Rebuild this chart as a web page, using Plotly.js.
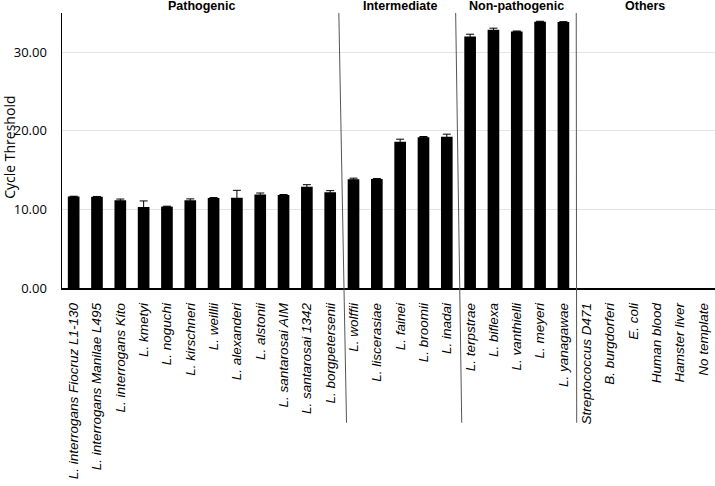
<!DOCTYPE html>
<html>
<head>
<meta charset="utf-8">
<script src="https://cdn.plot.ly/plotly-3.0.1.min.js"></script>
<style>html,body{margin:0;padding:0;background:#fff;}#chart{width:715px;height:486px;}</style>
</head>
<body>
<div id="chart"></div>
<script>
var categories = [
  "L. interrogans Fiocruz L1-130", "L. interrogans Manilae L495", "L. interrogans Kito",
  "L. kmetyi", "L. noguchi", "L. kirschneri", "L. weillii", "L. alexanderi", "L. alstonii",
  "L. santarosai AIM", "L. santarosai 1342", "L. borgpetersenii",
  "L. wolffii", "L. liscerasiae", "L. fainei", "L. broomii", "L. inadai",
  "L. terpstrae", "L. biflexa", "L. vanthielli", "L. meyeri", "L. yanagawae",
  "Streptococcus D471", "B. burgdorferi", "E. coli", "Human blood", "Hamster liver", "No template"
];
// No amplification for the "Others" group
var ctValues = [
  11.63, 11.60, 11.17, 10.32, 10.36, 11.17, 11.46, 11.50, 11.89, 11.85, 12.90, 12.19,
  13.85, 13.88, 18.60, 19.20, 19.24,
  32.00, 32.87, 32.66, 33.90, 33.85,
  null, null, null, null, null, null
];
var ctErrors = [
  0.05, 0.05, 0.15, 0.76, 0.05, 0.17, 0.05, 0.93, 0.20, 0.05, 0.25, 0.20,
  0.13, 0.05, 0.34, 0.08, 0.34,
  0.30, 0.20, 0.05, 0.05, 0.05,
  null, null, null, null, null, null
];
var groupNames = ["Pathogenic", "Intermediate", "Non-pathogenic", "Others"];
var groupCenters = [5.5, 14, 19, 24.5];

var trace = {
  type: "bar",
  x: categories,
  y: ctValues,
  marker: {color: "#000000"},
  width: 0.5,
  error_y: {type: "data", array: ctErrors, visible: true, color: "#000000", thickness: 1, width: 4},
  hoverinfo: "x+y"
};

var annotations = groupNames.map(function(g, i) {
  return {
    text: "<b>" + g + "</b>", xref: "x", yref: "paper", x: groupCenters[i], y: 1.0255,
    xanchor: "center", yanchor: "middle", showarrow: false,
    font: {family: "Liberation Sans, Arial, sans-serif", size: 12.5, color: "#000"}
  };
});
annotations.push({
  text: "Cycle Threshold", xref: "paper", yref: "paper", x: 0, y: 0.51,
  xanchor: "center", yanchor: "middle", xshift: -52, textangle: -90, showarrow: false,
  font: {family: "Open Sans, sans-serif", size: 14, color: "#000"}
});

var lineStyle = {color: "#555555", width: 1};
var shapes = [
  {type: "line", xref: "x", yref: "paper", x0: 11.37, y0: 1, x1: 11.70, y1: -0.49, line: lineStyle},
  {type: "line", xref: "x", yref: "paper", x0: 16.38, y0: 1, x1: 16.64, y1: -0.49, line: lineStyle},
  {type: "line", xref: "x", yref: "paper", x0: 21.55, y0: 1, x1: 21.57, y1: -0.49, line: lineStyle}
];

var layout = {
  width: 715, height: 486,
  margin: {l: 62, r: 0, t: 13, b: 198},
  paper_bgcolor: "#fff", plot_bgcolor: "#fff",
  showlegend: false,
  bargap: 0.5,
  xaxis: {
    type: "category",
    range: [-0.5, 27.5],
    tickangle: -90,
    tickfont: {family: "Liberation Sans, Arial, sans-serif", size: 13.5, color: "#000", style: "italic"},
    ticklabelstandoff: 8,
    showline: true, linecolor: "#000", linewidth: 1.5,
    showgrid: false, ticks: "", zeroline: false,
    automargin: false
  },
  yaxis: {
    range: [0, 35],
    tickvals: [0, 10, 20, 30],
    ticktext: ["0.00", "10.00", "20.00", "30.00"],
    tickfont: {family: "Open Sans, sans-serif", size: 13, color: "#000"},
    ticklabelstandoff: 11,
    showline: true, linecolor: "#000", linewidth: 1.5,
    showgrid: true, gridcolor: "#e3e3e3", gridwidth: 1,
    zeroline: false, ticks: "",
    automargin: false
  },
  annotations: annotations,
  shapes: shapes
};

Plotly.newPlot("chart", [trace], layout, {displayModeBar: false, staticPlot: true});
</script>
</body>
</html>
